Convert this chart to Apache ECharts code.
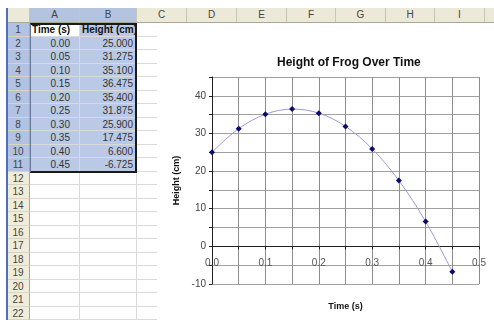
<!DOCTYPE html>
<html>
<head>
<meta charset="utf-8">
<script src="https://cdn.jsdelivr.net/npm/echarts@6/dist/echarts.min.js"></script>
<style>
  body { margin: 0; width: 494px; height: 320px; overflow: hidden; background: #fff; position: relative;
         font-family: "Liberation Sans", Arial, sans-serif; }
  .c { position: absolute; box-sizing: border-box; font-size: 10px; line-height: 13px; white-space: nowrap; overflow: hidden; color: #333; }
  .hd { background: #ece9d8; border-right: 1px solid #c9c5b4; border-bottom: 1px solid #aca899; text-align: center; line-height: 14px; color: #444; }
  .hd.sel { background: #b4c3e0; }
  .rn { background: #efedd9; border-bottom: 1px solid #d8d4c0; border-right: 1px solid #aca899; text-align: center; color: #444; }
  .rn.sel { background: #b1c2e2; }
  .cell { border-right: 1px solid #dadada; border-bottom: 1px solid #dadada; text-align: right; padding-right: 3px; }
  .cell.sel { background: #b9c9e6; }
  #chart { position: absolute; left: 157px; top: 23px; width: 337px; height: 297px; background: #fff; }
</style>
</head>
<body>
<div id="sheet"></div>
<div id="chart"></div>
<script>
// data
const times = [0.00, 0.05, 0.10, 0.15, 0.20, 0.25, 0.30, 0.35, 0.40, 0.45];
const heights = [25.000, 31.275, 35.100, 36.475, 35.400, 31.875, 25.900, 17.475, 6.600, -6.725];
const colLetters = ["A", "B", "C", "D", "E", "F", "G", "H", "I", "J"];
const colEdges = [30, 80, 137, 187, 237, 287, 336, 386, 435, 485, 535];
const headerNames = ["Time (s)", "Height (cm)"];
const rowCount = 22;

// spreadsheet
const sheet = document.getElementById("sheet");
const rowTop = i => Math.round(23 + i * 13.5);

function box(x, y, w, h, cls, text, extra) {
  const d = document.createElement("div");
  d.className = "c " + cls;
  d.style.left = x + "px";
  d.style.top = y + "px";
  d.style.width = w + "px";
  d.style.height = h + "px";
  if (extra) Object.assign(d.style, extra);
  if (text !== undefined) d.textContent = text;
  sheet.appendChild(d);
  return d;
}

// corner + column headers
box(7, 8, 23, 15, "hd");
colLetters.forEach((l, i) => {
  box(colEdges[i], 8, colEdges[i + 1] - colEdges[i], 15, "hd" + (i < 2 ? " sel" : ""), l);
});

// rows
for (let r = 0; r < rowCount; r++) {
  const y = rowTop(r), h = rowTop(r + 1) - y;
  const inSel = r <= times.length;
  box(7, y, 23, h, "rn" + (inSel ? " sel" : ""), String(r + 1));
  for (let c = 0; c < 3; c++) {
    let txt = "";
    let extra = null;
    if (r === 0 && c < 2) {
      txt = headerNames[c];
      extra = { fontWeight: "bold", textAlign: "left", paddingLeft: "2px", color: "#111" };
    } else if (r > 0 && r <= times.length && c === 0) {
      txt = times[r - 1].toFixed(2);
      extra = { paddingRight: "9px" };
    } else if (r > 0 && r <= times.length && c === 1) {
      txt = heights[r - 1].toFixed(3);
    }
    const sel = inSel && c < 2 && !(r === 0 && c === 0);
    box(colEdges[c], y, colEdges[c + 1] - colEdges[c], h, "cell" + (sel ? " sel" : ""), txt, extra);
  }
}
// selection outline
box(30, 23, 107, rowTop(times.length + 1) - 23 + 1, "", undefined, { border: "2px solid #1a1a1a", borderLeft: "1px solid #6a7a9a", background: "transparent" });
// blue frame line at the left
box(6, 8, 2, 312, "", undefined, { background: "#4f6fb8" });

// chart
const chart = echarts.init(document.getElementById("chart"));
chart.setOption({
  animation: false,
  backgroundColor: "#fff",
  textStyle: { fontFamily: "Liberation Sans, Arial, sans-serif" },
  title: {
    text: "Height of Frog Over Time",
    left: 115,
    top: 29,
    textStyle: { fontSize: 12, fontWeight: "bold", color: "#111" }
  },
  grid: { left: 55, right: 15, top: 54, bottom: 36, outerBoundsMode: "none" },
  xAxis: {
    type: "value",
    min: 0,
    max: 0.5,
    interval: 0.05,
    name: "Time (s)",
    nameLocation: "middle",
    nameGap: 18,
    nameTextStyle: { fontSize: 9, fontWeight: "bold", color: "#111" },
    axisLine: { onZero: true, lineStyle: { color: "#222", width: 1 } },
    axisTick: { show: true, length: 3, lineStyle: { color: "#222" } },
    // labels sit just under the zero line, as in the original
    axisLabel: {
      color: "#555",
      fontSize: 10,
      margin: -26,
      formatter: v => (Math.round(v * 100) % 10 === 0 ? v.toFixed(1) : "")
    },
    splitLine: { show: true, lineStyle: { color: "#8c8c8c", width: 1 } }
  },
  yAxis: {
    type: "value",
    min: -10,
    max: 45,
    interval: 5,
    name: "Height (cm)",
    nameLocation: "middle",
    nameGap: 30,
    nameTextStyle: { fontSize: 9, fontWeight: "bold", color: "#111" },
    axisLine: { show: true, onZero: false, lineStyle: { color: "#222", width: 1 } },
    axisTick: { show: true, length: 3, lineStyle: { color: "#222" } },
    axisLabel: {
      color: "#444",
      fontSize: 10,
      margin: 6,
      formatter: v => (v % 10 === 0 ? String(v) : "")
    },
    splitLine: { show: true, lineStyle: { color: "#a0a0a0", width: 1 } }
  },
  series: [{
    type: "line",
    data: times.map((t, i) => [t, heights[i]]),
    smooth: 0.35,
    symbol: "diamond",
    symbolSize: 6,
    lineStyle: { color: "#9a9ad6", width: 1 },
    itemStyle: { color: "#0a0a70" }
  }]
});
</script>
</body>
</html>
